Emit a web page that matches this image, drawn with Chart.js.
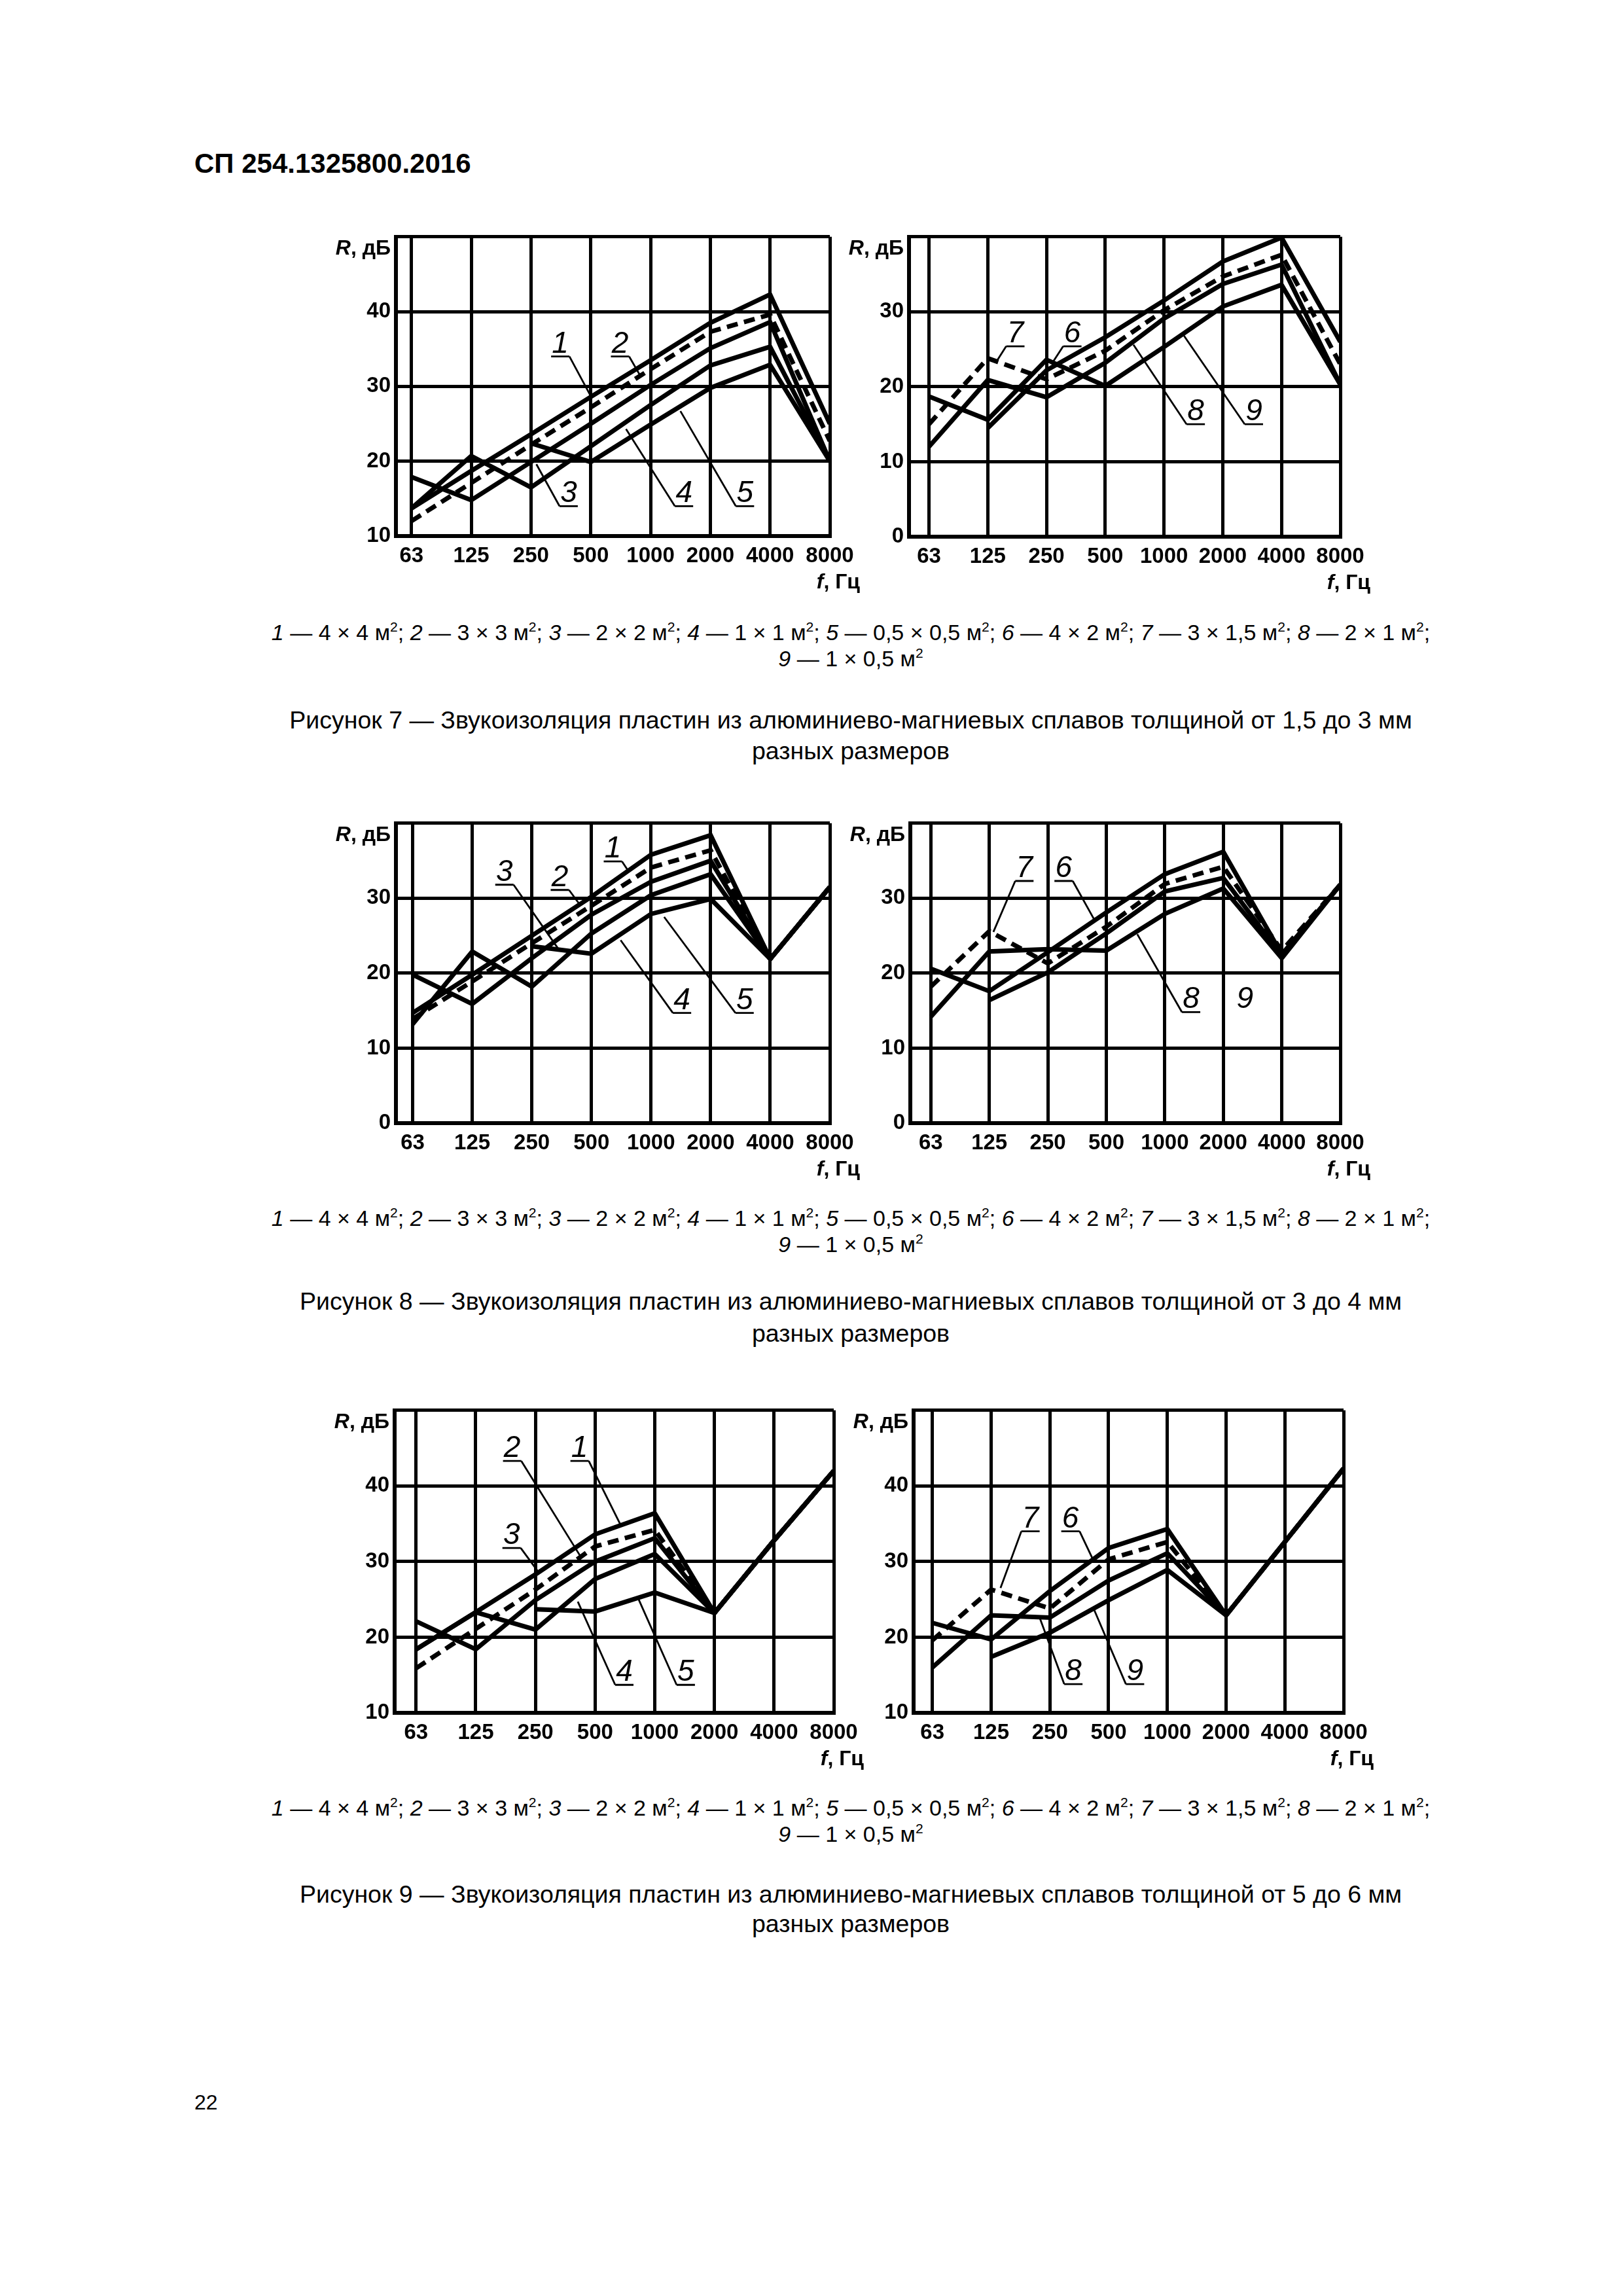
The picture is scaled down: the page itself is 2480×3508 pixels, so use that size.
<!DOCTYPE html>
<html lang="ru">
<head>
<meta charset="utf-8">
<title>СП 254.1325800.2016 — рисунки 7–9</title>
<script src="https://cdn.jsdelivr.net/npm/chart.js@4.4.1/dist/chart.umd.min.js"></script>
<style>
  html, body { margin: 0; padding: 0; background: #fff; }
  body { width: 2480px; height: 3508px; position: relative; overflow: hidden;
         font-family: 'Liberation Sans', Arial, sans-serif; color: #000; }
  .abs { position: absolute; white-space: nowrap; }
  canvas.plot { position: absolute; }
  .hdr { left: 297px; top: 226px; font-size: 42px; font-weight: bold; }
  .line { left: 300px; width: 2000px; text-align: center; line-height: 44px; }
  .legend { font-size: 34px; }
  .caption { font-size: 37.5px; }
  .line sup { font-size: 0.62em; vertical-align: 0.6em; line-height: 0; }
  .pg { left: 297px; top: 3194px; font-size: 32px; }
</style>
</head>
<body>
<div class="abs hdr">СП 254.1325800.2016</div>
<div class="abs pg">22</div>

<script>
const freqs = ['63', '125', '250', '500', '1000', '2000', '4000', '8000'];

// Рисунок 7 (толщина 1,5–3 мм)
const r7_1 = [13.7, 18.7, 23.6, 28.6, 33.5, 38.5, 42.3, 25.0];
const r7_2 = [12.0, 17.1, 22.2, 27.2, 32.3, 37.3, 39.6, 22.7];
const r7_3 = [17.9, 14.8, 19.9, 25.0, 30.2, 35.1, 38.6, 20.0];
const r7_4 = [13.7, 20.7, 16.5, 22.0, 27.5, 32.8, 35.3, 20.0];
const r7_5 = [null, null, 22.4, 19.9, 24.9, 29.8, 32.9, 20.0];
const r7_6 = [null, 14.5, 22.2, 26.6, 31.5, 36.7, 39.9, 26.0];
const r7_7 = [15.0, 23.8, 21.0, 24.8, 30.2, 34.7, 37.6, 23.0];
const r7_8 = [12.0, 20.9, 18.6, 23.2, 29.1, 33.7, 36.3, 20.3];
const r7_9 = [18.7, 15.6, 23.6, 20.1, 25.3, 30.7, 33.6, 20.3];

// Рисунок 8 (толщина 3–4 мм)
const r8_1 = [14.7, 19.8, 25.0, 30.2, 35.8, 38.4, 21.9, 31.5];
const r8_2 = [13.9, 18.9, 24.0, 29.0, 34.1, 36.4, 21.9, 31.5];
const r8_3 = [19.8, 15.9, 22.0, 27.8, 32.2, 35.0, 21.9, 31.5];
const r8_4 = [13.2, 22.9, 18.2, 25.3, 30.4, 33.2, 21.9, 31.5];
const r8_5 = [null, null, 23.6, 22.6, 27.9, 29.9, 21.9, 31.5];
const r8_6 = [20.6, 17.6, 22.8, 28.1, 33.2, 36.2, 22.5, 31.8];
const r8_7 = [18.2, 25.6, 21.3, 26.2, 31.9, 34.2, 23.0, 31.8];
const r8_8 = [14.2, 22.9, 23.2, 23.0, 27.9, 31.3, 22.0, 31.8];
const r8_9 = [null, 16.4, 20.1, 25.3, 30.9, 32.7, 22.3, 31.8];

// Рисунок 9 (толщина 5–6 мм)
const r9_1 = [18.4, 23.3, 28.3, 33.6, 36.4, 23.2, 32.8, 42.0];
const r9_2 = [15.9, 21.1, 26.3, 32.0, 34.2, 23.2, 32.8, 42.0];
const r9_3 = [22.1, 18.4, 24.9, 30.0, 33.1, 23.2, 32.8, 42.0];
const r9_4 = [18.4, 23.3, 21.0, 27.7, 31.0, 23.2, 32.8, 42.0];
const r9_5 = [null, null, 23.7, 23.4, 25.9, 23.2, 32.8, 42.0];
const r9_6 = [21.9, 19.7, 26.1, 31.8, 34.3, 22.9, 32.6, 42.3];
const r9_7 = [19.6, 26.3, 23.8, 30.3, 32.6, 22.9, 32.6, 42.3];
const r9_8 = [16.0, 22.9, 22.6, 27.5, 31.1, 22.9, 32.6, 42.3];
const r9_9 = [null, 17.4, 20.6, 24.9, 28.9, 22.9, 32.6, 42.3];

const yRangeA = [10, 50];
const yRangeB = [0, 40];

const plateSizes = ['4 × 4', '3 × 3', '2 × 2', '1 × 1', '0,5 × 0,5', '4 × 2', '3 × 1,5', '2 × 1', '1 × 0,5'];
const figTitles = [
  'Рисунок 7 — Звукоизоляция пластин из алюминиево-магниевых сплавов толщиной от 1,5 до 3 мм',
  'Рисунок 8 — Звукоизоляция пластин из алюминиево-магниевых сплавов толщиной от 3 до 4 мм',
  'Рисунок 9 — Звукоизоляция пластин из алюминиево-магниевых сплавов толщиной от 5 до 6 мм'
];

// номера кривых: [текст, x подчёркивания, y подчёркивания, x конца выноски, y конца выноски] в единицах осей
const callouts7a = [['1', 2.49, 34.0, 3.02, 28.4], ['2', 3.49, 34.0, 3.83, 31.4], ['3', 2.63, 14.0, 2.09, 19.6],
                    ['4', 4.56, 14.0, 3.59, 24.3], ['5', 5.58, 14.0, 4.50, 26.7]];
const callouts7b = [['7', 1.47, 25.4, 1.16, 23.5], ['6', 2.44, 25.4, 2.11, 23.3],
                    ['8', 4.54, 15.0, 3.48, 25.6], ['9', 5.53, 15.0, 4.34, 26.8]];
const callouts8a = [['1', 3.36, 34.9, 3.63, 33.5], ['3', 1.54, 31.8, 2.44, 23.3], ['2', 2.47, 31.1, 2.80, 29.2],
                    ['4', 4.52, 14.7, 3.49, 24.4], ['5', 5.57, 14.7, 4.22, 27.5]];
const callouts8b = [['7', 1.60, 32.3, 1.07, 25.5], ['6', 2.27, 32.3, 2.79, 27.2],
                    ['8', 4.45, 14.8, 3.53, 25.2], ['9', 5.37, 14.8, null, null]];
const callouts9a = [['2', 1.61, 43.3, 2.77, 30.5], ['1', 2.74, 43.3, 3.43, 34.8], ['3', 1.60, 31.8, 2.07, 28.4],
                    ['4', 3.49, 13.7, 2.71, 24.7], ['5', 4.52, 13.7, 3.73, 25.0]];
const callouts9b = [['7', 1.67, 34.0, 1.16, 26.5], ['6', 2.35, 34.0, 2.72, 30.5],
                    ['8', 2.40, 13.8, 1.83, 22.5], ['9', 3.45, 13.8, 2.75, 23.7]];

const FAMILY = "'Liberation Sans', Arial, sans-serif";
const TICK_FAMILY = "'Liberation Sans Narrow', 'Liberation Sans', Arial, sans-serif";
const PAD_L = 120, PAD_T = 25, PAD_R = 75, PAD_B = 95;

const plots = [
  { box: [605, 359, 663, 460],  xMin: -0.26, y: yRangeA, series: [r7_1, r7_2, r7_3, r7_4, r7_5], dashed: 1, notes: callouts7a },
  { box: [1389, 359, 659, 461], xMin: -0.34, y: yRangeB, series: [r7_6, r7_7, r7_8, r7_9], dashed: 1, notes: callouts7b },
  { box: [605, 1255, 663, 461], xMin: -0.28, y: yRangeB, series: [r8_1, r8_2, r8_3, r8_4, r8_5], dashed: 1, notes: callouts8a },
  { box: [1391, 1255, 657, 461], xMin: -0.35, y: yRangeB, series: [r8_6, r8_7, r8_8, r8_9], dashed: 1, notes: callouts8b },
  { box: [603, 2152, 671, 465], xMin: -0.36, y: yRangeA, series: [r9_1, r9_2, r9_3, r9_4, r9_5], dashed: 1, notes: callouts9a },
  { box: [1396, 2152, 657, 465], xMin: -0.32, y: yRangeA, series: [r9_6, r9_7, r9_8, r9_9], dashed: 1, notes: callouts9b }
];

// подписи под рисунками: [y строки легенды 1, y строки легенды 2, y подписи 1, y подписи 2]
const textRows = [[966, 1006, 1100, 1147], [1861, 1901, 1988, 2037], [2762, 2802, 2894, 2939]];

function mixed(ctx, it, rest, right, base) {
  ctx.font = 'bold 32px ' + TICK_FAMILY;
  const wRest = ctx.measureText(rest).width;
  ctx.font = 'italic bold 32px ' + TICK_FAMILY;
  const wIt = ctx.measureText(it).width;
  ctx.textAlign = 'left';
  ctx.fillText(it, right - wRest - wIt, base);
  ctx.font = 'bold 32px ' + TICK_FAMILY;
  ctx.fillText(rest, right - wRest, base);
}

function makeChart(p) {
  const [left, top, w, h] = p.box;
  const cv = document.createElement('canvas');
  cv.className = 'plot';
  cv.width = w + PAD_L + PAD_R;
  cv.height = h + PAD_T + PAD_B;
  cv.style.left = (left - PAD_L) + 'px';
  cv.style.top = (top - PAD_T) + 'px';
  document.body.appendChild(cv);

  const tickFont = { family: TICK_FAMILY, size: 33, weight: 'bold' };

  const decor = {
    id: 'decor',
    afterDatasetsDraw(chart) {
      const { ctx, chartArea: a } = chart;
      const xs = chart.scales.x, ys = chart.scales.y;
      ctx.save();
      ctx.fillStyle = '#000';
      ctx.strokeStyle = '#000';
      ctx.textBaseline = 'alphabetic';
      mixed(ctx, 'R', ', дБ', a.left - 8, a.top + 27);
      mixed(ctx, 'f', ', Гц', a.right + 46, a.bottom + 80);

      ctx.lineWidth = 2.8;
      for (const [txt, ux, uy, tx, ty] of p.notes) {
        const cx = xs.getPixelForValue(ux), cy = ys.getPixelForValue(uy);
        ctx.font = 'italic 46px ' + FAMILY;
        ctx.textAlign = 'center';
        ctx.fillText(txt, cx, cy - 6);
        if (tx === null) continue;
        const ex = tx < ux ? cx - 14 : cx + 14;
        ctx.beginPath();
        ctx.moveTo(cx - 14, cy);
        ctx.lineTo(cx + 14, cy);
        ctx.moveTo(ex, cy);
        ctx.lineTo(xs.getPixelForValue(tx), ys.getPixelForValue(ty));
        ctx.stroke();
      }
      ctx.restore();
    }
  };

  new Chart(cv, {
    type: 'line',
    data: {
      datasets: p.series.map((s, i) => ({
        data: s.map((v, k) => ({ x: k, y: v })),
        borderColor: '#000',
        borderWidth: 7,
        borderDash: i === p.dashed ? [17, 10] : [],
        borderJoinStyle: 'miter',
        pointRadius: 0,
        tension: 0,
        spanGaps: false,
        fill: false
      }))
    },
    options: {
      responsive: false,
      animation: false,
      devicePixelRatio: 1,
      layout: { padding: { left: 0, top: PAD_T, right: PAD_R, bottom: 0 }, autoPadding: false },
      plugins: { legend: { display: false }, tooltip: { enabled: false } },
      scales: {
        x: {
          type: 'linear', min: p.xMin, max: 7,
          afterBuildTicks: ax => { ax.ticks = freqs.map((_, i) => ({ value: i })); },
          afterFit: ax => { ax.height = PAD_B; },
          grid: { color: '#000', lineWidth: 5, drawTicks: false },
          border: { color: '#000', width: 6 },
          ticks: { color: '#000', font: tickFont, padding: 11, maxRotation: 0, autoSkip: false,
                   callback: v => freqs[v] }
        },
        y: {
          min: p.y[0], max: p.y[1],
          afterFit: ax => { ax.width = PAD_L; },
          grid: { color: '#000', lineWidth: 5, drawTicks: false },
          border: { color: '#000', width: 6 },
          ticks: { stepSize: 10, color: '#000', font: tickFont, padding: 8,
                   callback: v => (v === p.y[1] ? '' : String(v)) }
        }
      }
    },
    plugins: [decor]
  });
}

function addLine(html, centerY, cls) {
  const d = document.createElement('div');
  d.className = 'abs line ' + cls;
  d.style.top = (centerY - 22) + 'px';
  d.innerHTML = html;
  document.body.appendChild(d);
}

const legendItems = plateSizes.map((s, i) => `<i>${i + 1}</i> — ${s} м<sup>2</sup>`);
textRows.forEach((rows, f) => {
  addLine(legendItems.slice(0, 8).join('; ') + ';', rows[0], 'legend');
  addLine(legendItems[8], rows[1], 'legend');
  addLine(figTitles[f], rows[2], 'caption');
  addLine('разных размеров', rows[3], 'caption');
});

plots.forEach(makeChart);
</script>
</body>
</html>
